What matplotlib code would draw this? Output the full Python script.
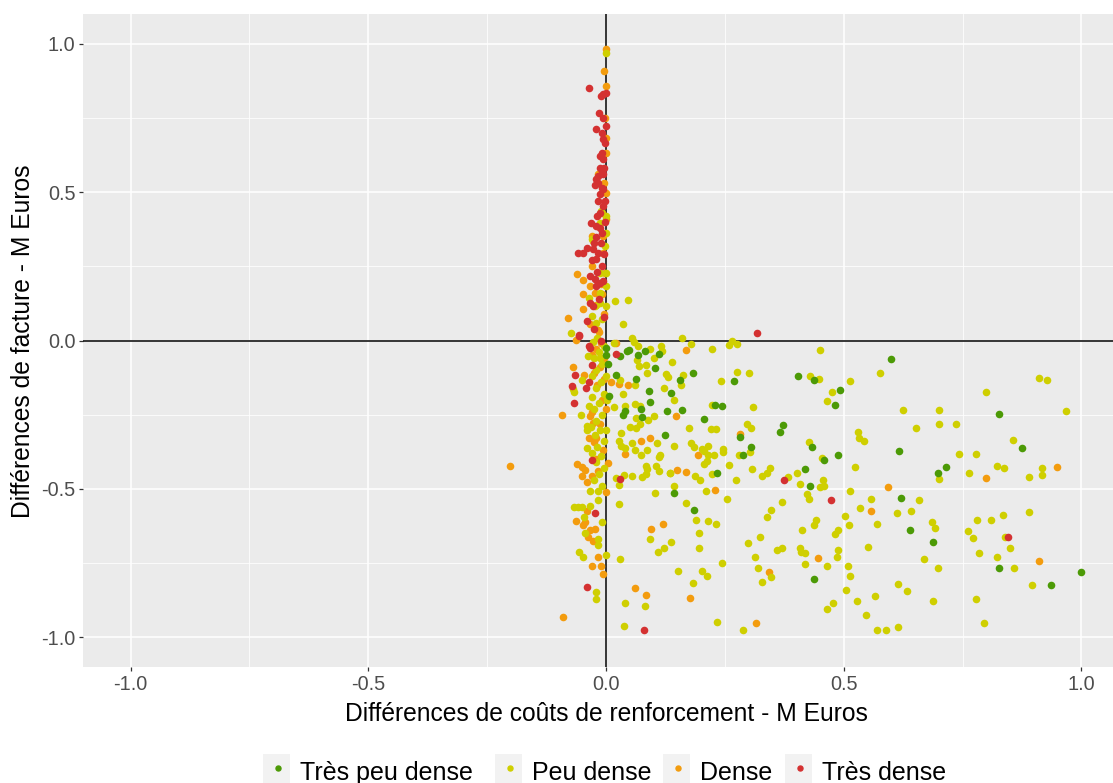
import matplotlib
matplotlib.use("Agg")
import matplotlib.pyplot as plt
from matplotlib.patches import Rectangle

plt.rcParams['font.family'] = ['Liberation Sans', 'DejaVu Sans']

categories = ["Très peu dense", "Peu dense", "Dense", "Très dense"]
colors = ["#4C9A06", "#CFCF00", "#F39C0E", "#D43131"]

green_x = [0.182, 0.156, 0.137, 0.160, 0.269, 0.229, 0.245, 0.207, 0.404, 0.437, 0.492, 0.481, 0.373, 0.365,
           0.282, 0.304, 0.288, 0.433, 0.459, 0.489, 0.233, 0.419, 0.430, 0.142, 0.185, 0.437, 0.599, 0.827,
           0.876, 0.617, 0.715, 0.699, 0.620, 0.639, 0.688, 0.827, 0.935, 0.998, 0.000, 0.001, 0.030, 0.045,
           0.048, 0.068, 0.082, 0.111, 0.005, 0.022, 0.063, 0.103, 0.090, 0.093, 0.128, 0.040, 0.036, 0.074,
           0.076, 0.125, 0.006]
green_y = [-0.111, -0.133, -0.176, -0.234, -0.137, -0.216, -0.220, -0.264, -0.120, -0.133, -0.168, -0.216, -0.286, -0.308,
           -0.325, -0.360, -0.386, -0.360, -0.404, -0.386, -0.446, -0.434, -0.490, -0.513, -0.570, -0.805, -0.064, -0.247,
           -0.361, -0.373, -0.425, -0.448, -0.531, -0.638, -0.679, -0.766, -0.823, -0.779, -0.025, -0.049, -0.051, -0.037,
           -0.033, -0.049, -0.037, -0.044, -0.078, -0.115, -0.129, -0.093, -0.169, -0.207, -0.237, -0.239, -0.252, -0.230,
           -0.257, -0.320, -0.188]

yellow_x = [0.160, 0.179, 0.223, 0.264, 0.258, 0.275, 0.451, 0.139, 0.163, 0.158, 0.242, 0.275, 0.301, 0.429, 0.449,
            0.514, 0.576, 0.475, 0.465, 0.142, 0.223, 0.310, 0.174, 0.220, 0.231, 0.296, 0.304, 0.142, 0.179, 0.185,
            0.201, 0.215, 0.206, 0.215, 0.228, 0.212, 0.206, 0.247, 0.247, 0.279, 0.303, 0.258, 0.426, 0.454, 0.530,
            0.533, 0.543, 0.524, 0.135, 0.187, 0.198, 0.222, 0.274, 0.307, 0.329, 0.339, 0.345, 0.383, 0.402, 0.407,
            0.456, 0.451, 0.458, 0.423, 0.428, 0.514, 0.144, 0.210, 0.255, 0.168, 0.370, 0.348, 0.339, 0.557, 0.535,
            0.190, 0.215, 0.231, 0.196, 0.442, 0.437, 0.503, 0.511, 0.413, 0.481, 0.489, 0.571, 0.137, 0.196, 0.299,
            0.323, 0.359, 0.370, 0.407, 0.410, 0.419, 0.489, 0.486, 0.552, 0.313, 0.244, 0.152, 0.201, 0.212, 0.320,
            0.348, 0.329, 0.419, 0.465, 0.508, 0.514, 0.505, 0.527, 0.565, 0.547, 0.478, 0.465, 0.184, 0.233, 0.288,
            0.571, 0.589,
            0.799, 0.911, 0.927, 0.967, 0.625, 0.701, 0.653, 0.701, 0.737, 0.856, 0.742, 0.778, 0.823, 0.837, 0.916,
            0.918, 0.889, 0.763, 0.701, 0.658, 0.611, 0.641, 0.685, 0.693, 0.780, 0.810, 0.834, 0.889, 0.761, 0.772,
            0.840, 0.850, 0.785, 0.823, 0.668, 0.699, 0.859, 0.614, 0.633, 0.688, 0.778, 0.897, 0.796, 0.615,
            0.017, 0.058, 0.068, 0.093, 0.116, 0.118, 0.065, 0.069, 0.084, 0.102, 0.086, 0.126, 0.130, 0.030, 0.062,
            0.035, 0.123, 0.017, 0.040, 0.061, 0.072, 0.064, 0.089, 0.100, 0.050, 0.064, 0.072, 0.032, 0.055, 0.027,
            0.032, 0.040, 0.062, 0.074, 0.087, 0.107, 0.114, 0.111, 0.038, 0.055, 0.076, 0.084, 0.084, 0.087, 0.106,
            0.111, 0.134, 0.028, 0.022, 0.103, 0.027, 0.093, 0.122, 0.109, 0.029, 0.041, 0.081, 0.038,
            -0.073, -0.037, -0.050, -0.070, -0.067, -0.052, -0.041, -0.041, -0.034, -0.016, -0.016, -0.068, -0.058,
            -0.050, -0.034, -0.046, -0.009, -0.044, -0.016, -0.016, -0.057, -0.049, 0.000, -0.021, -0.021,
            0.000, -0.011, -0.013, -0.030, -0.002, 0.019, 0.046, 0.035, -0.035, -0.023, -0.013, -0.030, -0.020, -0.009,
            0.000, 0.000, 0.000, 0.000, 0.000, -0.013, -0.013, 0.054,
            -0.005, -0.015, -0.025, -0.008, -0.020, -0.030, -0.010, -0.022, -0.005, -0.030, -0.015, -0.025, -0.008,
            -0.020, -0.032, -0.012, -0.024, -0.005, -0.018, -0.030, -0.010, -0.022, -0.005, -0.015, -0.025, -0.008,
            0.000, 0.002, -0.035, -0.040, -0.012, 0.000, -0.028, -0.018]
yellow_y = [0.007, -0.011, -0.029, -0.003, -0.016, -0.011, -0.033, -0.072, -0.116, -0.151, -0.137, -0.107, -0.111, -0.120, -0.129,
            -0.137, -0.111, -0.172, -0.203, -0.199, -0.216, -0.225, -0.295, -0.299, -0.299, -0.281, -0.295, -0.355, -0.346, -0.360,
            -0.364, -0.355, -0.373, -0.387, -0.386, -0.407, -0.416, -0.364, -0.377, -0.386, -0.377, -0.420, -0.342, -0.395, -0.308,
            -0.330, -0.338, -0.425, -0.446, -0.455, -0.469, -0.451, -0.469, -0.434, -0.455, -0.446, -0.429, -0.460, -0.446, -0.482,
            -0.469, -0.495, -0.491, -0.516, -0.534, -0.508, -0.490, -0.508, -0.534, -0.547, -0.543, -0.570, -0.596, -0.534, -0.566,
            -0.605, -0.609, -0.617, -0.649, -0.605, -0.623, -0.591, -0.622, -0.640, -0.652, -0.640, -0.617, -0.679, -0.700, -0.682,
            -0.661, -0.705, -0.700, -0.700, -0.714, -0.717, -0.705, -0.731, -0.696, -0.731, -0.749, -0.775, -0.775, -0.792, -0.766,
            -0.796, -0.814, -0.752, -0.761, -0.761, -0.792, -0.840, -0.879, -0.861, -0.926, -0.884, -0.905, -0.817, -0.949, -0.975,
            -0.975, -0.975,
            -0.172, -0.125, -0.134, -0.237, -0.234, -0.234, -0.295, -0.281, -0.281, -0.334, -0.382, -0.382, -0.422, -0.430, -0.430,
            -0.452, -0.460, -0.448, -0.465, -0.539, -0.582, -0.573, -0.613, -0.631, -0.604, -0.604, -0.587, -0.578, -0.643, -0.666,
            -0.661, -0.700, -0.717, -0.731, -0.735, -0.766, -0.766, -0.819, -0.844, -0.879, -0.870, -0.823, -0.953, -0.966,
            -0.010, -0.004, -0.017, -0.028, -0.019, -0.034, -0.066, -0.087, -0.083, -0.060, -0.109, -0.112, -0.123, -0.134, -0.151,
            -0.181, -0.160, -0.224, -0.219, -0.215, -0.222, -0.260, -0.268, -0.256, -0.290, -0.295, -0.283, -0.313, -0.346, -0.337,
            -0.354, -0.362, -0.368, -0.386, -0.368, -0.346, -0.386, -0.391, -0.452, -0.455, -0.459, -0.449, -0.424, -0.433, -0.424,
            -0.438, -0.447, -0.486, -0.463, -0.513, -0.552, -0.670, -0.700, -0.714, -0.735, -0.884, -0.896, -0.962,
            0.026, -0.053, -0.132, -0.165, -0.174, -0.251, -0.287, -0.361, -0.508, -0.508, -0.539, -0.560, -0.561,
            -0.560, -0.556, -0.596, -0.610, -0.650, -0.669, -0.689, -0.713, -0.731, -0.722, -0.849, -0.870,
            0.970, 0.436, 0.397, 0.341, 0.318, 0.133, 0.138, 0.054, 0.144, 0.116, 0.127, 0.082, 0.060, 0.071,
            0.419, 0.363, 0.228, 0.183, 0.116, 0.228, 0.161, 0.009,
            -0.020, -0.040, -0.060, -0.080, -0.100, -0.120, -0.140, -0.160, -0.180, -0.190, -0.210, -0.230, -0.250,
            -0.270, -0.290, -0.300, -0.320, -0.340, -0.360, -0.380, -0.390, -0.410, -0.430, -0.450, -0.470, -0.490,
            -0.300, -0.200, -0.220, -0.300, -0.060, -0.120, -0.005, 0.010]

orange_x = [0.168, 0.147, 0.282, 0.193, 0.149, 0.168, 0.229, 0.445, 0.342, 0.177, 0.315, 0.557, 0.594,
            0.799, 0.948, 0.911,
            0.021, 0.046, 0.011, 0.027, 0.074, 0.093, 0.041, 0.005, 0.001, 0.120, 0.095, 0.062, 0.084,
            -0.063, -0.069, -0.046, -0.093, -0.034, -0.027, -0.035, -0.025, -0.060, -0.051, -0.045, -0.050, -0.039,
            -0.030, -0.016, -0.041, -0.063, -0.045, -0.048, -0.034, -0.023, -0.037, -0.028, -0.016, -0.030, -0.011,
            -0.006, -0.090,
            0.000, -0.004, 0.000, 0.000, 0.000, -0.016, -0.009, -0.030, -0.027, -0.060, -0.048, -0.034, -0.023,
            -0.009, -0.048, -0.049, -0.079, -0.034, -0.016, 0.000, 0.000, -0.006, -0.006, -0.002,
            -0.202,
            -0.010, -0.020, -0.005, -0.012, -0.025, -0.004, -0.018, -0.008, -0.030, -0.012, -0.020, -0.006, -0.020,
            -0.030, 0.000, -0.015, -0.005, -0.020, -0.030, -0.010, -0.005, -0.002]
orange_y = [-0.033, -0.256, -0.316, -0.386, -0.437, -0.442, -0.504, -0.734, -0.779, -0.866, -0.952, -0.573, -0.495,
            -0.464, -0.425, -0.743,
            -0.010, -0.151, -0.140, -0.145, -0.337, -0.328, -0.381, -0.413, -0.510, -0.617, -0.635, -0.835, -0.858,
            0.003, -0.089, -0.115, -0.251, -0.256, -0.278, -0.327, -0.342, -0.416, -0.425, -0.435, -0.455, -0.478,
            -0.455, -0.438, -0.573, -0.608, -0.613, -0.622, -0.637, -0.634, -0.661, -0.675, -0.731, -0.761, -0.761,
            -0.787, -0.931,
            0.981, 0.908, 0.858, 0.683, 0.633, 0.560, 0.431, 0.352, 0.335, 0.224, 0.203, 0.183, 0.161,
            0.155, 0.155, 0.107, 0.077, 0.054, 0.037, 0.498, 0.408, 0.352, 0.296, 0.228,
            -0.422,
            -0.010, -0.030, -0.060, -0.090, -0.110, -0.130, -0.150, -0.200, -0.240, -0.280, -0.330, -0.370, -0.400,
            -0.050, -0.230, 0.030, 0.090, 0.120, 0.250, 0.190, 0.530, 0.750]

red_x = [0.318, 0.375, 0.473, 0.845, 0.022, 0.030, 0.079,
         -0.057, -0.035, -0.034, -0.029, -0.065, -0.035, -0.042, -0.072, -0.068, -0.029, -0.024, -0.041,
         -0.036, -0.011, -0.006, 0.001, -0.014, -0.007, -0.022, 0.000, -0.006, -0.002, -0.009, -0.006, -0.013,
         -0.009, -0.023, -0.016, -0.009, -0.013, -0.016, -0.032, -0.020, -0.009, -0.058, -0.048, -0.041, -0.027,
         -0.016, -0.020, -0.009, -0.034, -0.023, -0.020, -0.013, -0.034, -0.027, -0.041, -0.056, -0.006, -0.016,
         -0.020, -0.006, -0.013,
         -0.003, -0.010, -0.004, -0.018, -0.006, -0.015, -0.004, -0.025, -0.010, -0.003, -0.012, -0.020, -0.008,
         -0.004, -0.012, -0.006, -0.018, -0.025, -0.030]
red_y = [0.024, -0.469, -0.539, -0.661, -0.045, -0.468, -0.976,
         0.015, -0.017, -0.026, -0.082, -0.116, -0.141, -0.160, -0.154, -0.211, -0.404, -0.580, -0.831,
         0.852, 0.824, 0.830, 0.835, 0.768, 0.749, 0.714, 0.723, 0.678, 0.667, 0.633, 0.610, 0.582,
         0.565, 0.523, 0.532, 0.515, 0.492, 0.470, 0.395, 0.386, 0.363, 0.296, 0.296, 0.313, 0.307,
         0.296, 0.273, 0.251, 0.217, 0.206, 0.183, 0.195, 0.127, 0.116, 0.065, 0.017, 0.560, 0.554,
         0.543, 0.453, 0.431,
         0.400, 0.330, 0.290, 0.230, 0.200, 0.140, 0.080, 0.040, 0.000, 0.470, 0.380, 0.350, 0.700,
         0.580, 0.620, 0.510, 0.420, 0.330, 0.270]

x_ticks = [-1.0, -0.5, 0.0, 0.5, 1.0]
y_ticks = [-1.0, -0.5, 0.0, 0.5, 1.0]
x_title = "Différences de coûts de renforcement - M Euros"
y_title = "Différences de facture - M Euros"

W, H = 1113, 783
fig = plt.figure(figsize=(W / 100, H / 100), dpi=100)
# panel extends slightly beyond the right edge (cropped like the reference)
left, right, top, bottom = 83, 1129, 14, 667
ax = fig.add_axes([left / W, 1 - bottom / H, (right - left) / W, (bottom - top) / H])
ax.set_facecolor("#EBEBEB")
ax.set_xlim(-1.1, 1.1)
ax.set_ylim(-1.1, 1.1)
for s in ax.spines.values():
    s.set_visible(False)

ax.set_xticks(x_ticks)
ax.set_yticks(y_ticks)
ax.set_xticklabels([f"{v:.1f}" for v in x_ticks])
ax.set_yticklabels([f"{v:.1f}" for v in y_ticks])
ax.set_xticks([-0.75, -0.25, 0.25, 0.75], minor=True)
ax.set_yticks([-0.75, -0.25, 0.25, 0.75], minor=True)
ax.grid(which="major", color="white", linewidth=1.1)
ax.grid(which="minor", color="white", linewidth=0.55)
ax.set_axisbelow(True)
ax.tick_params(which="major", length=3, width=0.9, color="#333333", labelcolor="#4D4D4D",
               labelsize=14.3, pad=2.5)
ax.tick_params(which="minor", length=0)

ax.axhline(0, color="black", linewidth=1.1, zorder=1.5)
ax.axvline(0, color="black", linewidth=1.1, zorder=1.5)

s = 30
ax.scatter(orange_x, orange_y, s=s, color=colors[2], linewidths=0, zorder=2)
ax.scatter(yellow_x, yellow_y, s=s, color=colors[1], linewidths=0, zorder=2)
ax.scatter(green_x, green_y, s=s, color=colors[0], linewidths=0, zorder=2)
ax.scatter(red_x, red_y, s=s, color=colors[3], linewidths=0, zorder=2)

# axis titles placed at the reference pixel positions
fig.text(606 / W, 1 - 721 / H, x_title, fontsize=17.7, ha="center", va="baseline", color="black")
fig.text(23 / W, 1 - 341 / H, y_title, fontsize=17.7, ha="center", va="center", rotation=90, color="black")

# legend drawn manually at bottom (ggplot style)
key_x = [263, 495, 663, 785]
key_w = 27
key_top = 754
for kx, col, lab in zip(key_x, colors, categories):
    fig.patches.append(Rectangle((kx / W, 0), key_w / W, (H - key_top) / H,
                                 transform=fig.transFigure, facecolor="#F2F2F2", edgecolor="none"))
    fig.add_artist(plt.Line2D([(kx + key_w / 2 + 1) / W], [1 - 768 / H], marker="o", markersize=3.6,
                              color=col, linestyle="none", transform=fig.transFigure))
    fig.text((kx + key_w + 10) / W, 1 - 780 / H, lab, fontsize=18, va="baseline", ha="left", color="black")

fig.savefig("out.png", dpi=100)
